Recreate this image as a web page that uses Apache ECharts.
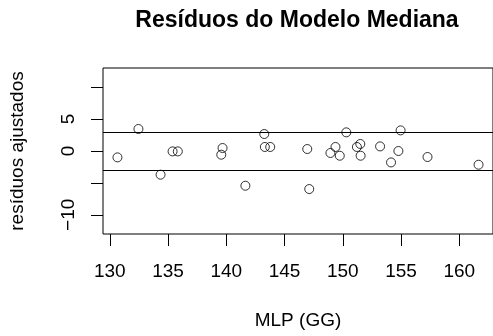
<!DOCTYPE html>
<html>
<head>
<meta charset="utf-8">
<script src="https://cdn.jsdelivr.net/npm/echarts@6/dist/echarts.min.js"></script>
<style>
  html, body { margin: 0; padding: 0; background: #fff; }
  #chart { width: 493px; height: 336px; }
</style>
</head>
<body>
<div id="chart"></div>
<script>
// MLP (GG) values and the adjusted residuals of the median model
const mlp = [130.66, 132.46, 134.36, 135.39, 135.84, 139.57, 139.68, 141.64, 143.26, 143.31,
             143.77, 146.95, 147.12, 148.94, 149.37, 149.74, 150.3, 151.21, 151.5, 151.53,
             153.2, 154.14, 154.77, 154.96, 157.27, 161.65];
const residuos = [-1.0, 3.45, -3.71, -0.06, -0.06, -0.58, 0.47, -5.44, 2.66, 0.63,
                  0.63, 0.31, -5.96, -0.31, 0.63, -0.74, 2.92, 0.63, 1.10, -0.74,
                  0.72, -1.79, 0.0, 3.23, -0.94, -2.15];
// reference limits drawn as horizontal lines
const limites = [3, -3];
// tick positions and the tick labels that are printed
const xTicks = [130, 135, 140, 145, 150, 155, 160];
const yTicks = [-10, -5, 0, 5, 10];
const yTickLabels = [-10, 0, 5];
// axis ranges
const xRange = [129.42, 162.89];
const yRange = [-13, 13];

const FONT = 'Liberation Sans, Arial, Helvetica, sans-serif';
const fmt = v => String(v).replace('-', '\u2212');

const chart = echarts.init(document.getElementById('chart'), null, { renderer: 'canvas' });
chart.setOption({
  animation: false,
  backgroundColor: '#ffffff',
  title: {
    text: 'Resíduos do Modelo Mediana',
    left: 292,
    top: 4,
    textAlign: 'center',
    textStyle: { fontFamily: FONT, fontSize: 23, fontWeight: 'bold', color: '#000' }
  },
  grid: {
    left: 103, top: 68, width: 392, height: 166,
    show: true, borderColor: '#000', borderWidth: 1, backgroundColor: 'transparent'
  },
  xAxis: {
    type: 'value',
    min: xRange[0], max: xRange[1],
    name: 'MLP (GG)',
    nameLocation: 'middle',
    nameGap: 77,
    nameTextStyle: { fontFamily: FONT, fontSize: 19, color: '#000' },
    splitLine: { show: false },
    axisLine: { show: false, onZero: false },
    axisTick: { show: true, length: 12, lineStyle: { color: '#000', width: 1 }, customValues: xTicks },
    axisLabel: { customValues: xTicks, margin: 28, fontFamily: FONT, fontSize: 19, color: '#000', formatter: fmt }
  },
  yAxis: {
    type: 'value',
    min: yRange[0], max: yRange[1],
    name: 'resíduos ajustados',
    nameLocation: 'middle',
    nameGap: 76,
    nameRotate: 90,
    nameTextStyle: { fontFamily: FONT, fontSize: 19, color: '#000' },
    splitLine: { show: false },
    axisLine: { show: false, onZero: false },
    axisTick: { show: true, length: 12, lineStyle: { color: '#000', width: 1 }, customValues: yTicks },
    axisLabel: { customValues: yTickLabels, rotate: 90, margin: 25, fontFamily: FONT, fontSize: 19, color: '#000', formatter: fmt }
  },
  series: [{
    type: 'scatter',
    data: mlp.map((x, i) => [x, residuos[i]]),
    symbol: 'circle',
    symbolSize: 9,
    itemStyle: { color: 'transparent', borderColor: '#000', borderWidth: 1 },
    emphasis: { disabled: true },
    markLine: {
      silent: true,
      symbol: ['none', 'none'],
      label: { show: false },
      lineStyle: { color: '#000', width: 1, type: 'solid' },
      data: limites.map(v => ({ yAxis: v }))
    }
  }]
});
</script>
</body>
</html>
